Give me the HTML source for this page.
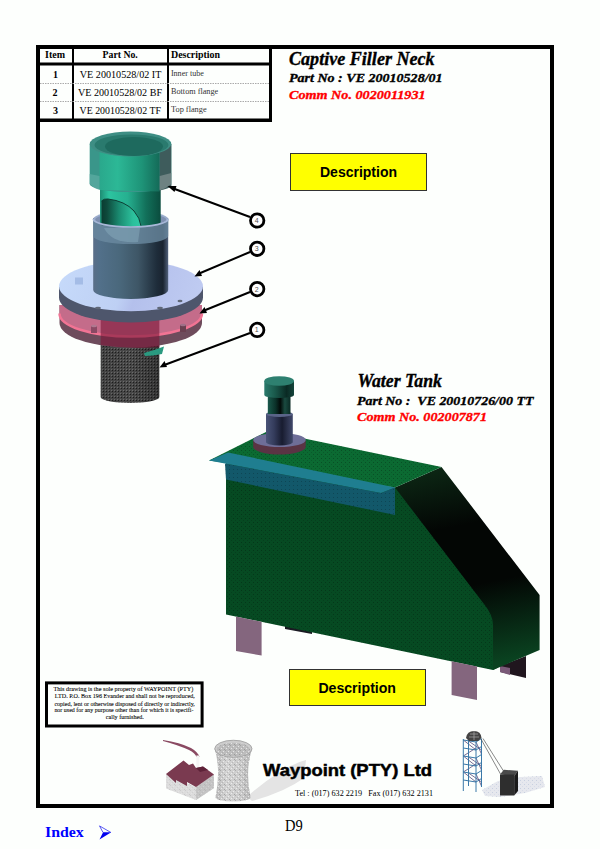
<!DOCTYPE html>
<html><head><meta charset="utf-8">
<style>
html,body{margin:0;padding:0;background:#fdfffd;}
body{width:600px;height:849px;position:relative;overflow:hidden;font-family:"Liberation Serif",serif;}
svg{position:absolute;left:0;top:0;}
</style></head><body>
<svg width="600" height="849" viewBox="0 0 600 849">
  <rect x="38" y="47" width="514" height="759" fill="none" stroke="#000" stroke-width="4"/>
  <!-- table lines -->
  <rect x="269" y="45" width="3" height="77" fill="#000"/>
  <rect x="36" y="118.5" width="236" height="3.5" fill="#000"/>
  <rect x="72" y="49" width="2" height="70" fill="#000"/>
  <rect x="167" y="49" width="2" height="70" fill="#000"/>
  <rect x="40" y="62.5" width="229" height="3" fill="#000"/>
  <line x1="40" y1="83.5" x2="269" y2="83.5" stroke="#aaa" stroke-width="1" stroke-dasharray="1.5,1"/>
  <line x1="40" y1="101.5" x2="269" y2="101.5" stroke="#aaa" stroke-width="1" stroke-dasharray="1.5,1"/>
  <rect x="290.5" y="153.5" width="136" height="37" fill="#ffff00" stroke="#333" stroke-width="1"/>
  <rect x="289.5" y="669.5" width="136" height="36" fill="#ffff00" stroke="#333" stroke-width="1"/>
  <rect x="46.5" y="682.9" width="155.6" height="43.1" fill="none" stroke="#000" stroke-width="3"/>
</svg>

<svg width="600" height="849" viewBox="0 0 600 849">
 <defs>
  <pattern id="perf" width="3" height="3" patternUnits="userSpaceOnUse">
   <rect width="3" height="3" fill="#484848"/><rect x="1" y="1" width="1" height="1" fill="#1e1e1e"/><rect x="0" y="0" width="1" height="1" fill="#6e6e6e"/>
  </pattern>
  <linearGradient id="gTeal" x1="99.7" x2="161.5" y1="0" y2="0" gradientUnits="userSpaceOnUse">
   <stop offset="0" stop-color="#1e8a72"/><stop offset="0.15" stop-color="#2cc4a0"/><stop offset="0.45" stop-color="#26b090"/><stop offset="0.75" stop-color="#12705a"/><stop offset="1" stop-color="#0a4a3c"/>
  </linearGradient>
  <linearGradient id="gCapMid" x1="99.5" x2="159.7" y1="0" y2="0" gradientUnits="userSpaceOnUse">
   <stop offset="0" stop-color="#2aa88c"/><stop offset="0.3" stop-color="#2cb896"/><stop offset="0.7" stop-color="#1e9478"/><stop offset="1" stop-color="#146a58"/>
  </linearGradient>
  <linearGradient id="gTube" x1="93.2" x2="168.2" y1="0" y2="0" gradientUnits="userSpaceOnUse">
   <stop offset="0" stop-color="#5a6e88"/><stop offset="0.08" stop-color="#52708a"/><stop offset="0.35" stop-color="#4a687c"/><stop offset="0.6" stop-color="#3e5666"/><stop offset="0.85" stop-color="#1e2c3a"/><stop offset="0.93" stop-color="#1a2430"/><stop offset="1" stop-color="#50607a"/>
  </linearGradient>
  <linearGradient id="gPerf" x1="0" x2="1" y1="0" y2="0">
   <stop offset="0" stop-color="#000" stop-opacity="0.1"/><stop offset="0.5" stop-color="#000" stop-opacity="0"/><stop offset="1" stop-color="#000" stop-opacity="0.3"/>
  </linearGradient>
  <linearGradient id="gFlTop" x1="60" y1="265" x2="200" y2="310" gradientUnits="userSpaceOnUse">
   <stop offset="0" stop-color="#c6dafa"/><stop offset="0.45" stop-color="#bed0f4"/><stop offset="0.55" stop-color="#b4c0ec"/><stop offset="1" stop-color="#c0ccf2"/>
  </linearGradient>
 </defs>
 <!-- perforated tube -->
 <path d="M100.7,320 L159.3,320 L159.3,397 A29.3,6 0 0 1 100.7,397 Z" fill="url(#perf)"/>
 <path d="M100.7,320 L159.3,320 L159.3,397 A29.3,6 0 0 1 100.7,397 Z" fill="url(#gPerf)"/>
 <path d="M144,353 Q155,350 164,346.5 L162,354 Q153,356 145,356 Z" fill="#2a9a80"/>
 <!-- red flange -->
 <path d="M59.5,305 L202,305 L202,323 A71.25,24.5 0 0 1 59.5,323 Z" fill="#6e4c5c"/>
 <path d="M59.5,305 L202,305 L202,313.5 A71.25,23 0 0 1 59.5,313.5 Z" fill="#c46c8a"/>
 <path d="M59.5,313.5 A71.25,23 0 0 0 202,313.5" fill="none" stroke="#f27494" stroke-width="2.5"/>
 <path d="M100.7,312 L159.3,312 L159.3,347 Q130,349.5 100.7,345 Z" fill="#7a1436" opacity="0.6"/>
 <rect x="180" y="325" width="6" height="7" fill="#6a4050"/><ellipse cx="183" cy="325" rx="3" ry="1.2" fill="#a07088"/>
 <rect x="91" y="326" width="6" height="7" fill="#8a4a64"/><ellipse cx="94" cy="326" rx="3" ry="1.2" fill="#b07890"/>
 <!-- blue flange -->
 <path d="M59,286.2 L203,286.2 L203,297.5 A72,25 0 0 1 59,297.5 Z" fill="#4e566c"/>
 <ellipse cx="131" cy="286.2" rx="72" ry="25" fill="url(#gFlTop)"/>
 <ellipse cx="98" cy="308" rx="3" ry="1.3" fill="#606878"/>
 <ellipse cx="160" cy="308" rx="3" ry="1.3" fill="#606878"/>
 <ellipse cx="180" cy="301" rx="2.5" ry="1.2" fill="#606878"/>
 <rect x="75" y="277.5" width="8" height="7" fill="#a4bce6"/>
 <!-- blue tube -->
 <path d="M93.2,218 L168.2,218 L168.2,290 A37.5,9 0 0 1 93.2,290 Z" fill="url(#gTube)"/>
 <ellipse cx="130.7" cy="219" rx="37.5" ry="8" fill="#9aaccc"/>
 <ellipse cx="130.7" cy="219.5" rx="35.5" ry="6.8" fill="#7e90b0"/>
 <!-- inner teal tube -->
 <path d="M100,184 L160.7,184 L160.7,222 A30.35,5.5 0 0 1 100,222 Z" fill="url(#gTeal)"/>
 <linearGradient id="gWin" x1="101" x2="141" y1="0" y2="0" gradientUnits="userSpaceOnUse">
  <stop offset="0" stop-color="#0a3a30"/><stop offset="0.15" stop-color="#0e4a3c"/><stop offset="0.45" stop-color="#1a8a70"/><stop offset="0.8" stop-color="#2cc09c"/><stop offset="1" stop-color="#30c8a4"/>
 </linearGradient>
 <path d="M101.5,201 Q104,198.5 108,199 Q125,201 134,211 Q140,218 141,226 L101.5,226 Z" fill="url(#gWin)"/>
 <path d="M101.5,201 Q104,198.5 108,199 Q125,201 134,211 Q140,218 141,226" fill="none" stroke="#0c3e34" stroke-width="1"/>
 <!-- translucent front of blue tube top -->
 <path d="M93.2,219 A37.5,8 0 0 0 168.2,219 L168.2,236 A37.5,8 0 0 1 93.2,236 Z" fill="#6a8aa0" opacity="0.8"/>
 <path d="M104,228 Q112,244 138,242 L140,228 Z" fill="#8cb0c0" opacity="0.45"/>
 <path d="M93.2,219 A37.5,8 0 0 0 168.2,219" fill="none" stroke="#a8b8d8" stroke-width="1.6"/>
 <!-- cap -->
 <path d="M89.7,144 L171.3,144 L171.3,184 A40.8,8 0 0 1 89.7,184 Z" fill="#3a968a"/>
 <path d="M99.5,144 L159.7,144 L159.7,191.5 L99.5,190 Z" fill="url(#gCapMid)"/>
 <path d="M159.7,144 L171.3,144 L171.3,184 A40.8,8 0 0 1 159.7,190.5 Z" fill="#3e5c5c"/>
 <path d="M89.7,174 L99.5,176 L99.5,190 Q94,188.5 89.7,184 Z" fill="#5aaaa0" opacity="0.8"/>
 <path d="M159.7,176 L171.3,173 L171.3,184 Q166,188.5 159.7,190.5 Z" fill="#7a8c8c" opacity="0.8"/>
 <ellipse cx="130.5" cy="144" rx="40.8" ry="12.5" fill="#3e8e84"/>
 <ellipse cx="131.5" cy="145" rx="37" ry="10.5" fill="#2a7a6e"/>
 <ellipse cx="134" cy="146.5" rx="29" ry="9.5" fill="#1e6a5e"/>
 <!-- arrows -->
 <g stroke="#000" stroke-width="2" fill="none">
  <line x1="250" y1="217" x2="172" y2="188"/>
  <line x1="250" y1="252" x2="198" y2="274"/>
  <line x1="250" y1="292" x2="203" y2="311"/>
  <line x1="250" y1="333" x2="163" y2="365.5"/>
 </g>
 <g fill="#000">
  <path d="M167.5,186 L176.5,186 L174.5,192 Z"/>
  <path d="M194.5,276.5 L199.5,270 L202,276 Z"/>
  <path d="M199.5,313.5 L204.5,307 L207,313 Z"/>
  <path d="M159.5,367.5 L164.5,361 L167,367 Z"/>
 </g>
 <g fill="#fff" stroke="#000" stroke-width="2.8">
  <circle cx="257.2" cy="220.5" r="6.7"/>
  <circle cx="257.2" cy="248.8" r="6.7"/>
  <circle cx="257.2" cy="289.1" r="6.7"/>
  <circle cx="257.2" cy="329.9" r="6.7"/>
 </g>
 <g font-family="Liberation Sans" font-size="7" text-anchor="middle" fill="#555">
  <text x="256.8" y="223">4</text><text x="256.8" y="251.3">3</text><text x="256.8" y="291.6">2</text><text x="256.8" y="332.4">1</text>
 </g>
</svg>

<svg width="600" height="849" viewBox="0 0 600 849">
 <defs>
  <linearGradient id="gRight" x1="430" y1="470" x2="470" y2="668" gradientUnits="userSpaceOnUse">
   <stop offset="0" stop-color="#0c2614"/><stop offset="0.3" stop-color="#030604"/><stop offset="0.6" stop-color="#030604"/><stop offset="1" stop-color="#0a4220"/>
  </linearGradient>
  <pattern id="dotsG" width="4" height="4" patternUnits="userSpaceOnUse">
   <rect x="1" y="2" width="1" height="1" fill="#000" opacity="0.25"/><rect x="3" y="0" width="1" height="1" fill="#000" opacity="0.15"/>
  </pattern>
  <linearGradient id="gSmallCap" x1="0" x2="1" y1="0" y2="0">
   <stop offset="0" stop-color="#2a7a6c"/><stop offset="0.35" stop-color="#1a5a4c"/><stop offset="0.75" stop-color="#0a2a24"/><stop offset="1" stop-color="#14443a"/>
  </linearGradient>
  <linearGradient id="gSmallInner" x1="0" x2="1" y1="0" y2="0">
   <stop offset="0" stop-color="#1a5a4c"/><stop offset="0.35" stop-color="#0a3028"/><stop offset="0.55" stop-color="#020a08"/><stop offset="0.75" stop-color="#1a4a40"/><stop offset="1" stop-color="#0a2a24"/>
  </linearGradient>
  <linearGradient id="gSmallTube" x1="0" x2="1" y1="0" y2="0">
   <stop offset="0" stop-color="#4a5478"/><stop offset="0.3" stop-color="#343c5c"/><stop offset="0.6" stop-color="#181c30"/><stop offset="1" stop-color="#40486a"/>
  </linearGradient>
  <pattern id="dots2" width="4" height="4" patternUnits="userSpaceOnUse">
   <rect x="1" y="1" width="1" height="1" fill="#000" opacity="0.2"/>
  </pattern>
 </defs>
 <!-- legs behind -->
 <path d="M285,626 L312,631 L312,634 L285,629 Z" fill="#1a1a22"/>
 <path d="M500,666 L526,656 L526,678 L500,672 Z" fill="#20161e"/>
 <path d="M500,666 L510,668 L510,675 L500,672 Z" fill="#7a5a78"/>
 <!-- front face -->
 <path d="M226,463 L395,487.5 L400,487 L498,616 L498,667.5 L493,670 L226,614.4 Z" fill="#064a22"/>
 <path d="M226,463 L395,487.5 L400,487 L498,616 L498,667.5 L493,670 L226,614.4 Z" fill="url(#dotsG)"/>
 <!-- right face -->
 <path d="M395,487.5 L441.5,467 L539.6,595 L539.6,650 L493,670 L493,625 Q493,615 484,604 Z" fill="url(#gRight)"/>
 <!-- top -->
 <path d="M209,460.5 L268,431 L441.5,467 L395,487.5 Z" fill="#0b6a32"/>
 <path d="M209,460.5 L268,431 L441.5,467 L395,487.5 Z" fill="url(#dotsG)"/>
 <!-- lip -->
 <path d="M225,463.5 L381,493 L395,487.5 L395,515 L226,479.5 Z" fill="#12586a"/>
 <path d="M225,463.5 L381,493 L395,487.5 L395,515 L226,479.5 Z" fill="url(#dots2)"/>
 <path d="M209,460.5 L228,452.5 L395,487.5 L381,493 L225,463.5 Z" fill="#1f7e90"/>
 <!-- legs front -->
 <path d="M236,616.5 L261.6,621.8 L261.6,655.6 L236,651 Z" fill="#84667e"/>
 <path d="M451.6,661.3 L477,666.6 L477,700 L451.6,695 Z" fill="#84667e"/>
 <!-- small neck -->
 <path d="M253.2,440 L305.7,440 L305.7,447 A26.25,7.5 0 0 1 253.2,447 Z" fill="#5a3444"/>
 <ellipse cx="279.5" cy="440" rx="26.25" ry="7" fill="#6e6e98"/>
 <path d="M266,414 L292.8,414 L292.8,442 A13.4,3.5 0 0 1 266,442 Z" fill="url(#gSmallTube)"/>
 <ellipse cx="279.4" cy="414" rx="13.4" ry="3" fill="#5a6488"/>
 <rect x="267.8" y="394" width="22.7" height="20" fill="url(#gSmallInner)"/>
 <path d="M264.3,381 L294,381 L294,395 A14.85,3 0 0 1 264.3,395 Z" fill="url(#gSmallCap)"/>
 <ellipse cx="279.15" cy="381" rx="14.85" ry="4.8" fill="#2e8070"/>
</svg>
<svg width="600" height="849" viewBox="0 0 600 849">
 <defs>
  <linearGradient id="gTower" x1="0" x2="1" y1="0" y2="0">
   <stop offset="0" stop-color="#b8b8b8"/><stop offset="0.3" stop-color="#d4d4d4"/><stop offset="0.7" stop-color="#cccccc"/><stop offset="1" stop-color="#b4b4b4"/>
  </linearGradient>
  <pattern id="speck" width="5" height="5" patternUnits="userSpaceOnUse">
   <rect x="0" y="0" width="1" height="1" fill="#888" opacity="0.5"/><rect x="3" y="1" width="1" height="1" fill="#fff" opacity="0.6"/>
   <rect x="1" y="3" width="1" height="1" fill="#fff" opacity="0.6"/><rect x="4" y="4" width="1" height="1" fill="#777" opacity="0.5"/>
   <rect x="2" y="2" width="1" height="1" fill="#999" opacity="0.4"/>
  </pattern>
  <pattern id="speck2" width="4" height="4" patternUnits="userSpaceOnUse">
   <rect x="0" y="0" width="1" height="1" fill="#c8d0e0"/><rect x="2" y="2" width="1" height="1" fill="#d8dce8"/>
  </pattern>
 </defs>
 <!-- shadow of tower -->
 <path d="M247,797 Q262,783 280,772 Q292,764 306,760 L304,778 Q285,792 252,801 Z" fill="#e4e4e4"/>
 <!-- factory -->
 <path d="M163,740 Q180,742.5 191,748 Q198,752 199.5,757 L196.5,757 Q195,753 189,750 Q178,745 163,741 Z" fill="#8a4a62"/>
 <rect x="196.3" y="755.5" width="3" height="16" fill="#f4f4f4"/>
 <path d="M166,774 L166,788.5 L196,800 L214,788 L214,774.5 L196,787 Z" fill="#dcdcdc"/>
 <path d="M196,787 L214,774.5 L214,788 L196,800 Z" fill="#c4c4c4"/>
 <path d="M166,774 L166,788.5 L196,800 L214,788 L214,774.5 L196,787 Z" fill="url(#speck)" opacity="0.4"/>
 <path d="M166,774 L183.5,760.5 L189,765 L193,763.5 L196,768 L203,766.5 L214,774.5 L196,787 L187,782 L187,786 L176,780 L176,783 Z" fill="#7a3a50"/>
 <path d="M196,768 L203,766.5 L208,770 L200,772 Z" fill="#5e2238"/>
 <!-- cooling tower -->
 <path d="M214.7,748.75 Q221,770 215.5,797.5 A17.5,4 0 0 0 250.5,797.5 Q245,770 252,748.75 Z" fill="url(#gTower)"/>
 <path d="M214.7,748.75 Q221,770 215.5,797.5 A17.5,4 0 0 0 250.5,797.5 Q245,770 252,748.75 Z" fill="url(#speck)"/>
 <ellipse cx="233.35" cy="748.75" rx="18.65" ry="8.5" fill="#cdcdcd" stroke="#9a9a9a" stroke-width="0.8"/>
 <ellipse cx="233.35" cy="749.5" rx="16.5" ry="6.8" fill="#bdbdbd"/>
 <ellipse cx="233.35" cy="749.5" rx="16.5" ry="6.8" fill="url(#speck)"/>
 <!-- headframe shadow -->
 <path d="M482,790 L498,781 L520,777 L542,776 L545,787 L525,793 L500,797 L485,796 Z" fill="#e6e8ee"/>
 <path d="M482,790 L498,781 L520,777 L542,776 L545,787 L525,793 L500,797 L485,796 Z" fill="url(#speck2)"/>
 <!-- headframe -->
 <g stroke="#40306a" stroke-width="0.7" fill="none">
  <path d="M463.3,740 L476,750 M463.3,756 L476,748 M463.3,756 L476,766 M463.3,772 L476,764 M463.3,772 L476,782 M476,742 L481.5,754 M476,758 L481.5,770 M476,774 L481.5,786 M468.5,741 L481.5,750 M468.5,757 L481.5,766 M468.5,773 L481.5,782"/>
 </g>
 <g stroke="#3a78a8" stroke-width="1.0" fill="none">
  <line x1="463.3" y1="739" x2="463.3" y2="791"/>
  <line x1="476" y1="741.5" x2="476" y2="792"/>
  <line x1="468.5" y1="737.5" x2="468.5" y2="786"/>
  <line x1="481.5" y1="739" x2="481.5" y2="787"/>
  <path d="M463.3,740 L476,742 L481.5,738.5 M463.3,748 L476,750 L481.5,746.5 M463.3,756 L476,758 L481.5,754.5 M463.3,764 L476,766 L481.5,762.5 M463.3,772 L476,774 L481.5,770.5 M463.3,780 L476,782 L481.5,778.5"/>
 </g>
 <path d="M466,738 Q467,731 474,731 Q481,731 481.5,738 L478,741 L469,741 Z" fill="#444"/>
 <path d="M470,734 L478,734 M469,737 L479,737 M474,731 L474,740" stroke="#aaa" stroke-width="0.7"/>
 <g stroke="#555" stroke-width="0.7"><line x1="481" y1="739" x2="500.5" y2="774"/><line x1="483" y1="738.5" x2="503.5" y2="771"/></g>
 <path d="M500,774.5 L514.2,776 L518,770.8 L503.8,769.8 Z" fill="#4a4a4a"/>
 <rect x="500" y="774.5" width="14.2" height="21" fill="#2e2e2e"/>
 <path d="M514.2,776 L518,770.8 L518,791 L514.2,795.5 Z" fill="#1a1a1a"/>
 <!-- index arrow -->
 <path d="M99.5,839.4 L110.85,832.45 L103,832.45 Z" fill="#0000f0"/>
 <path d="M99.5,825.9 L110.85,832.45 L103,832.45 Z" fill="none" stroke="#3030f0" stroke-width="0.8"/>
</svg>

<svg id="txt" width="600" height="849" viewBox="0 0 600 849" font-family="Liberation Serif">
 <g font-weight="bold" font-size="10">
  <text id="t_item" x="45.10" y="57.7" textLength="20.00" lengthAdjust="spacingAndGlyphs">Item</text>
  <text id="t_partno" x="102.60" y="57.7" textLength="35.20" lengthAdjust="spacingAndGlyphs">Part No.</text>
  <text id="t_desc" x="171.00" y="57.7" textLength="49.00" lengthAdjust="spacingAndGlyphs">Description</text>
  <text id="t_1" x="53.00" y="78.2">1</text>
  <text id="t_2" x="52.40" y="96">2</text>
  <text id="t_3" x="53.00" y="114">3</text>
 </g>
 <g font-size="11">
  <text id="t_ve1" x="79.80" y="78" textLength="81.60" lengthAdjust="spacingAndGlyphs">VE 20010528/02 IT</text>
  <text id="t_ve2" x="78.00" y="96" textLength="84.00" lengthAdjust="spacingAndGlyphs">VE 20010528/02 BF</text>
  <text id="t_ve3" x="79.60" y="114" textLength="81.40" lengthAdjust="spacingAndGlyphs">VE 20010528/02 TF</text>
 </g>
 <g font-size="8.3" fill="#333">
  <text id="t_d1" x="170.90" y="75.9" textLength="33.00" lengthAdjust="spacingAndGlyphs">Inner tube</text>
  <text id="t_d2" x="171.00" y="93.8" textLength="47.20" lengthAdjust="spacingAndGlyphs">Bottom flange</text>
  <text id="t_d3" x="171.00" y="112.4" textLength="35.60" lengthAdjust="spacingAndGlyphs">Top flange</text>
 </g>
 <g font-weight="bold" font-style="italic" stroke-width="0.35">
  <text id="t_cap" stroke="#000" x="289.00" y="65.2" font-size="18" textLength="145.60" lengthAdjust="spacingAndGlyphs">Captive Filler Neck</text>
  <text id="t_pn1" stroke="#000" x="289.00" y="82" font-size="13" textLength="153.60" lengthAdjust="spacingAndGlyphs">Part No : VE 20010528/01</text>
  <text id="t_cn1" stroke="#ff0000" x="289.00" y="98.5" font-size="13.5" fill="#ff0000" textLength="136.60" lengthAdjust="spacingAndGlyphs">Comm No. 0020011931</text>
  <text id="t_wt" stroke="#000" x="357.50" y="387.2" font-size="18" textLength="84.40" lengthAdjust="spacingAndGlyphs">Water Tank</text>
  <text id="t_pn2" stroke="#000" x="357.00" y="404.8" font-size="13" textLength="176.40" lengthAdjust="spacingAndGlyphs" xml:space="preserve">Part No :  VE 20010726/00 TT</text>
  <text id="t_cn2" stroke="#ff0000" x="357.00" y="420.5" font-size="13.5" fill="#ff0000" textLength="130.00" lengthAdjust="spacingAndGlyphs">Comm No. 002007871</text>
 </g>
 <g font-family="Liberation Sans" font-weight="bold" font-size="14">
  <text id="t_yb1" x="320.00" y="177.3" textLength="77.00" lengthAdjust="spacingAndGlyphs">Description</text>
  <text id="t_yb2" x="318.40" y="692.8" textLength="77.60" lengthAdjust="spacingAndGlyphs">Description</text>
  <text id="t_way" stroke="#000" stroke-width="0.5" x="263.00" y="776" font-size="17" textLength="169.00" lengthAdjust="spacingAndGlyphs">Waypoint (PTY) Ltd</text>
 </g>
 <g font-size="6.5" stroke="#000" stroke-width="0.08">
  <text id="t_l1" x="53.40" y="691.3" textLength="140.00" lengthAdjust="spacingAndGlyphs">This  drawing is the sole property of WAYPOINT (PTY)</text>
  <text id="t_l2" x="54.80" y="698.4" textLength="140.00" lengthAdjust="spacingAndGlyphs">LTD. P.O. Box 196 Evander and shall not be reproduced,</text>
  <text id="t_l3" x="54.40" y="705.5" textLength="140.40" lengthAdjust="spacingAndGlyphs">copied, lent or otherwise disposed of directly or indirectly,</text>
  <text id="t_l4" x="54.40" y="712.3" textLength="139.00" lengthAdjust="spacingAndGlyphs">nor used for any purpose other than for which it is specifi-</text>
  <text id="t_l5" x="105.80" y="719" textLength="38.00" lengthAdjust="spacingAndGlyphs">cally furnished.</text>
 </g>
 <text id="t_tel" x="295.00" y="796" font-size="8.5" textLength="138.00" lengthAdjust="spacingAndGlyphs" xml:space="preserve">Tel : (017) 632 2219   Fax (017) 632 2131</text>
 <text id="t_d9" x="285.00" y="830.7" font-size="16" textLength="17.70" lengthAdjust="spacingAndGlyphs">D9</text>
 <text id="t_index" x="45.00" y="837.4" font-size="15" font-weight="bold" fill="#0000ff" textLength="38.80" lengthAdjust="spacingAndGlyphs">Index</text>
</svg>
</body></html>
